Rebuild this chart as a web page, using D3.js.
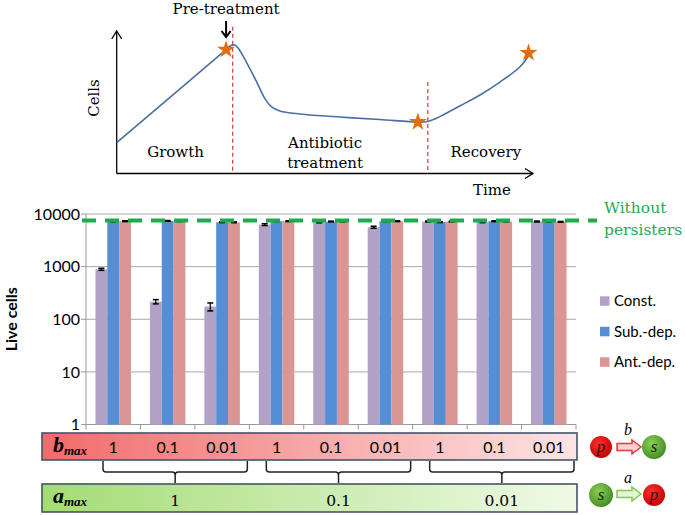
<!DOCTYPE html>
<html><head><meta charset="utf-8">
<script src="https://cdn.jsdelivr.net/npm/d3@7"></script>
<style>html,body{margin:0;padding:0;background:#fff;}svg{display:block;}</style>
</head><body>
<svg id="c" width="685" height="515"></svg>
<script>
// ---------- data ----------
const bLabels = ["1","0.1","0.01","1","0.1","0.01","1","0.1","0.01"];
const aLabels = ["1","0.1","0.01"];
const seriesNames = ["Const.","Sub.-dep.","Ant.-dep."];
const constVals = [890, 216, 174, 6300, 6950, 5600, 7200, 7000, 7200];
const constErr  = [40, 20, 30, 250, 150, 250, 150, 150, 150];
const subVals   = [7200, 7400, 7000, 7300, 7200, 7300, 7000, 7300, 7200];
const subErr    = [120, 120, 120, 120, 120, 120, 120, 120, 120];
const antVals   = [7300, 7300, 6950, 7300, 7200, 7300, 7200, 7200, 7100];
const antErr    = [120, 120, 120, 120, 120, 120, 120, 120, 120];
const withoutPersisters = 7500;
const yTicks = [1, 10, 100, 1000, 10000];

// schematic curve (time, cells in arbitrary units 0-100)
const curveT = [0, 26.4, 27.6, 28.5, 29.3, 31.3, 33.8, 35.7, 37.4, 39.4, 44.2, 53.9, 63.5, 72.7, 75.1, 76.8, 79.2, 82.8, 87.7, 92.5, 97.3, 99.4];
const curveC = [21.7, 87.4, 90.3, 90.6, 88.5, 78.6, 64.5, 53.2, 46.9, 44.1, 42.0, 39.8, 38.1, 36.3, 36.7, 38.4, 42.0, 47.6, 55.4, 64.5, 75.1, 83.0];
const starT = [26.4, 72.7, 99.4];
const starC = [87.4, 36.3, 85.0];
const phaseT = [28.0, 75.1];
const phaseTop = [103.5, 64.5];
const phaseLabels = [["Growth"], ["Antibiotic","treatment"], ["Recovery"]];
const phaseLabelT = [14.2, 50.3, 89.1];

const colors = ["#b3a2c7", "#558ed5", "#d99694"];

const svg = d3.select("#c");
const defs = svg.append("defs");

// ---------- top schematic ----------
const sx = d3.scaleLinear().domain([0, 100]).range([116.7, 531]);
const sy = d3.scaleLinear().domain([0, 100]).range([173.5, 31.7]);
const topG = svg.append("g");
const serif = "'DejaVu Serif', serif";

// axes with arrowheads
topG.append("line").attr("x1", sx(0)).attr("y1", sy(0)).attr("x2", sx(0)).attr("y2", 31)
  .attr("stroke", "#000").attr("stroke-width", 1.3);
topG.append("path").attr("d", `M${sx(0)-5},${39} L${sx(0)},${31} L${sx(0)+5},${39}`)
  .attr("fill", "none").attr("stroke", "#000").attr("stroke-width", 1.3);
topG.append("line").attr("x1", sx(0)).attr("y1", sy(0)).attr("x2", 533).attr("y2", sy(0))
  .attr("stroke", "#000").attr("stroke-width", 1.3);
topG.append("path").attr("d", `M${525},${sy(0)-5} L${533},${sy(0)} L${525},${sy(0)+5}`)
  .attr("fill", "none").attr("stroke", "#000").attr("stroke-width", 1.3);

// phase dashed lines
phaseT.forEach((t, i) => {
  topG.append("line").attr("x1", sx(t)).attr("x2", sx(t)).attr("y1", sy(phaseTop[i])).attr("y2", sy(0))
    .attr("stroke", "#d03a3a").attr("stroke-width", 1.2).attr("stroke-dasharray", "4,3");
});

// curve
const line = d3.line().x((d, i) => sx(curveT[i])).y((d, i) => sy(curveC[i])).curve(d3.curveCatmullRom.alpha(0.5));
topG.append("path").attr("d", line(curveT)).attr("fill", "none").attr("stroke", "#4a6fa5").attr("stroke-width", 1.6);

// stars
const star = d3.symbol().type(d3.symbolStar).size(100);
starT.forEach((t, i) => {
  topG.append("path").attr("d", star()).attr("transform", `translate(${sx(t)},${sy(starC[i])})`)
    .attr("fill", "#e46c0a");
});

// labels
topG.append("text").attr("x", sx(starT[0])).attr("y", 14).attr("text-anchor", "middle")
  .attr("font-family", serif).attr("font-size", 15).text("Pre-treatment");
topG.append("line").attr("x1", sx(starT[0])).attr("x2", sx(starT[0])).attr("y1", 21).attr("y2", 36)
  .attr("stroke", "#000").attr("stroke-width", 2);
topG.append("path").attr("d", `M${sx(starT[0])-4.5},${31} L${sx(starT[0])},${37} L${sx(starT[0])+4.5},${31}`)
  .attr("fill", "none").attr("stroke", "#000").attr("stroke-width", 2);
phaseLabels.forEach((lines, i) => {
  const base = lines.length > 1 ? 148 : 157;
  lines.forEach((s, j) => {
    topG.append("text").attr("x", sx(phaseLabelT[i])).attr("y", base + j * 20).attr("text-anchor", "middle")
      .attr("font-family", serif).attr("font-size", 15).text(s);
  });
});
topG.append("text").attr("transform", "translate(99,98) rotate(-90)").attr("text-anchor", "middle")
  .attr("font-family", serif).attr("font-size", 15).text("Cells");
topG.append("text").attr("x", 492).attr("y", 195).attr("text-anchor", "middle")
  .attr("font-family", serif).attr("font-size", 15).text("Time");

// ---------- bar chart ----------
const x0 = 86, x1 = 576;
const xb = d3.scaleBand().domain(d3.range(bLabels.length)).range([x0, x1]).paddingInner(0).paddingOuter(0);
const xs = d3.scaleBand().domain(d3.range(3)).range([0, xb.bandwidth()]).paddingInner(0).paddingOuter(0.8);
const y = d3.scaleLog().domain([1, 10000]).range([424.5, 214]);

const grid = svg.append("g");
yTicks.forEach(t => {
  grid.append("line").attr("x1", x0).attr("x2", x1).attr("y1", y(t)).attr("y2", y(t))
    .attr("stroke", t === 1 ? "#9a9a9a" : "#a8a8a8").attr("stroke-width", 1);
  grid.append("line").attr("x1", x0 - 5).attr("x2", x0).attr("y1", y(t)).attr("y2", y(t))
    .attr("stroke", "#9a9a9a");
  grid.append("text").attr("x", 80).attr("y", y(t)).attr("dy", "0.36em").attr("text-anchor", "end")
    .attr("font-family", "Lato, sans-serif").attr("font-size", 16).attr("fill", "#000").text(t);
});
grid.append("line").attr("x1", x0).attr("x2", x0).attr("y1", y(10000)).attr("y2", y(1)).attr("stroke", "#9a9a9a");
d3.range(bLabels.length + 1).forEach(i => {
  const xx = i < bLabels.length ? xb(i) : x1;
  grid.append("line").attr("x1", xx).attr("x2", xx).attr("y1", y(1)).attr("y2", y(1) + 5).attr("stroke", "#9a9a9a");
});

const allVals = [constVals, subVals, antVals];
const allErr = [constErr, subErr, antErr];
const bars = svg.append("g");
allVals.forEach((vals, s) => {
  bars.selectAll(null).data(vals).enter().append("rect")
    .attr("x", (d, i) => xb(i) + xs(s)).attr("width", xs.bandwidth())
    .attr("y", d => y(d)).attr("height", d => y(1) - y(d)).attr("fill", colors[s]);
});
allVals.forEach((vals, s) => {
  vals.forEach((v, i) => {
    const cx = xb(i) + xs(s) + xs.bandwidth() / 2;
    const e = allErr[s][i];
    const yt = y(v + e), yb = y(v - e);
    bars.append("line").attr("x1", cx).attr("x2", cx).attr("y1", yt).attr("y2", yb).attr("stroke", "#000").attr("stroke-width", 1.2);
    [yt, yb].forEach(yy => bars.append("line").attr("x1", cx - 3).attr("x2", cx + 3).attr("y1", yy).attr("y2", yy)
      .attr("stroke", "#000").attr("stroke-width", 1.5));
  });
});

// without persisters line
svg.append("line").attr("x1", 82).attr("x2", 597).attr("y1", y(withoutPersisters)).attr("y2", y(withoutPersisters))
  .attr("stroke", "#1faa4a").attr("stroke-width", 4).attr("stroke-dasharray", "14,9");
svg.append("text").attr("x", 604).attr("y", 213).attr("font-family", serif).attr("font-size", 15.5)
  .attr("fill", "#27a85a").text("Without");
svg.append("text").attr("x", 604).attr("y", 235).attr("font-family", serif).attr("font-size", 15.5)
  .attr("fill", "#27a85a").text("persisters");

// y label
svg.append("text").attr("transform", `translate(17,${(y(1) + y(10000)) / 2}) rotate(-90)`).attr("text-anchor", "middle")
  .attr("font-family", "Lato, sans-serif").attr("font-weight", "bold").attr("font-size", 16).text("Live cells");

// legend
seriesNames.forEach((n, i) => {
  const ly = 301 + i * 30.5;
  svg.append("rect").attr("x", 600).attr("y", ly - 4.7).attr("width", 9.5).attr("height", 9.5).attr("fill", colors[i]);
  svg.append("text").attr("x", 614).attr("y", ly).attr("dy", "0.36em").attr("font-family", "Lato, sans-serif")
    .attr("font-size", 15).text(n);
});

// ---------- parameter boxes ----------
const gb = defs.append("linearGradient").attr("id", "gb");
gb.append("stop").attr("offset", "0%").attr("stop-color", "#f26a6a");
gb.append("stop").attr("offset", "100%").attr("stop-color", "#fde4e4");
const ga = defs.append("linearGradient").attr("id", "ga");
ga.append("stop").attr("offset", "0%").attr("stop-color", "#a3dc74");
ga.append("stop").attr("offset", "100%").attr("stop-color", "#f0fae7");

svg.append("rect").attr("x", 42).attr("y", 433).attr("width", 535).attr("height", 27)
  .attr("fill", "url(#gb)").attr("stroke", "#44546a").attr("stroke-width", 1.6);
svg.append("rect").attr("x", 42).attr("y", 484).attr("width", 535).attr("height", 28)
  .attr("fill", "url(#ga)").attr("stroke", "#44546a").attr("stroke-width", 1.6);

const bt = svg.append("text").attr("x", 53).attr("y", 452).attr("font-family", "'Liberation Serif', serif")
  .attr("font-weight", "bold").attr("font-style", "italic");
bt.append("tspan").attr("font-size", 22).text("b");
bt.append("tspan").attr("font-size", 13).attr("dy", 3).text("max");
const at = svg.append("text").attr("x", 53).attr("y", 503).attr("font-family", "'Liberation Serif', serif")
  .attr("font-weight", "bold").attr("font-style", "italic");
at.append("tspan").attr("font-size", 22).text("a");
at.append("tspan").attr("font-size", 13).attr("dy", 3).text("max");

bLabels.forEach((l, i) => {
  svg.append("text").attr("x", xb(i) + xb.bandwidth() / 2).attr("y", 453).attr("text-anchor", "middle")
    .attr("font-family", "Lato, sans-serif").attr("font-size", 16).text(l);
});

// braces & a labels
aLabels.forEach((l, k) => {
  const xl = xb(k * 3) + 17, xr = xb(k * 3 + 2) + xb.bandwidth() - 2;
  const xm = (xl + xr) / 2;
  const y0 = 461, yh = 472, ytip = 483, r = 3;
  svg.append("path").attr("d",
    `M${xl},${y0} L${xl},${yh - r} Q${xl},${yh} ${xl + r},${yh} L${xm - r},${yh} Q${xm},${yh} ${xm},${yh + r} L${xm},${ytip}` +
    ` M${xm},${yh + r} Q${xm},${yh} ${xm + r},${yh} L${xr - r},${yh} Q${xr},${yh} ${xr},${yh - r} L${xr},${y0}`)
    .attr("fill", "none").attr("stroke", "#222").attr("stroke-width", 1.5);
  svg.append("text").attr("x", xm).attr("y", 506).attr("text-anchor", "middle")
    .attr("font-family", serif).attr("font-size", 15.5).text(l);
});

// ---------- icons ----------
function radial(id, c0, c1) {
  const g = defs.append("radialGradient").attr("id", id).attr("cx", "40%").attr("cy", "35%").attr("r", "70%");
  g.append("stop").attr("offset", "0%").attr("stop-color", c0);
  g.append("stop").attr("offset", "100%").attr("stop-color", c1);
}
radial("rr", "#ff3030", "#c00000");
radial("rg", "#8ccf55", "#3f8a22");
function ball(cx, cy, r, fill, letter) {
  svg.append("circle").attr("cx", cx).attr("cy", cy).attr("r", r).attr("fill", `url(#${fill})`);
  svg.append("text").attr("x", cx).attr("y", cy + 5).attr("text-anchor", "middle")
    .attr("font-family", "'Liberation Serif', serif").attr("font-style", "italic").attr("font-size", 17)
    .attr("fill", "#2a1a10").text(letter);
}
function blockArrow(xa, xb2, cy, stroke, fill) {
  const xh = xb2 - 9;
  svg.append("path").attr("d",
    `M${xa},${cy - 3.5} L${xh},${cy - 3.5} L${xh},${cy - 7} L${xb2},${cy} L${xh},${cy + 7} L${xh},${cy + 3.5} L${xa},${cy + 3.5} Z`)
    .attr("fill", fill).attr("stroke", stroke).attr("stroke-width", 1.5);
}
ball(601, 447, 11, "rr", "p");
blockArrow(617, 641, 447, "#e03c3c", "#fbd0d0");
ball(654, 447, 12, "rg", "s");
svg.append("text").attr("x", 628).attr("y", 435).attr("text-anchor", "middle").attr("font-family", "'Liberation Serif', serif")
  .attr("font-style", "italic").attr("font-size", 16).text("b");
ball(601, 495, 12, "rg", "s");
blockArrow(617, 641, 494, "#86c454", "#e3f5d3");
ball(654, 495, 11, "rr", "p");
svg.append("text").attr("x", 628).attr("y", 483).attr("text-anchor", "middle").attr("font-family", "'Liberation Serif', serif")
  .attr("font-style", "italic").attr("font-size", 16).text("a");
</script>
</body></html>
